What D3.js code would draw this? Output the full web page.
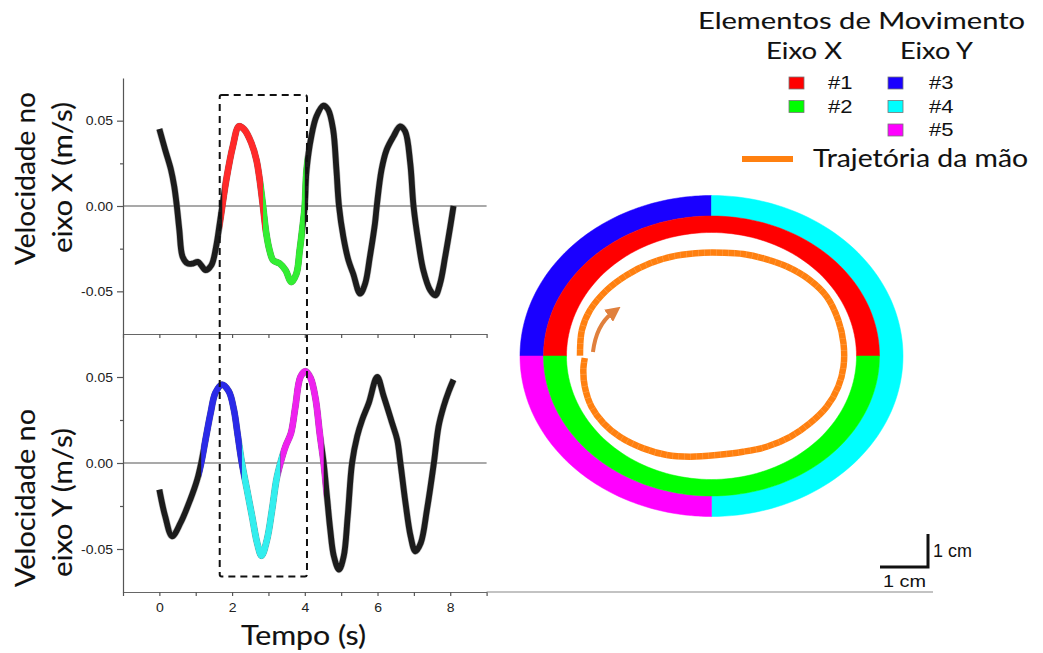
<!DOCTYPE html>
<html>
<head>
<meta charset="utf-8">
<script src="https://cdn.jsdelivr.net/npm/d3@7"></script>
<style>
  html, body { margin: 0; padding: 0; background: #fff; }
  svg { display: block; }
</style>
</head>
<body>
<svg id="chart" width="1043" height="653"></svg>
<script>
// ---- Hand velocity along X (m/s) over time (s)
const timeX = [0, 0.16, 0.32, 0.41, 0.48, 0.55, 0.64, 0.78, 0.92, 1.06, 1.15, 1.27, 1.43, 1.56, 1.66, 1.73,
  1.84, 2.02, 2.19, 2.34, 2.53, 2.67, 2.76, 2.85,
  2.94, 3.03, 3.13, 3.31, 3.47, 3.63, 3.77, 3.86, 3.95, 4.0,
  4.05, 4.18, 4.32, 4.51, 4.64, 4.78, 4.87, 4.94, 5.06, 5.20, 5.33, 5.52, 5.66, 5.79, 5.93, 5.98,
  6.11, 6.25, 6.44, 6.62, 6.76, 6.90, 6.99, 7.13, 7.26, 7.45, 7.59, 7.72, 7.86, 8.0, 8.09];
const velX = [0.0451, 0.0329, 0.0212, 0.0114, 0, -0.0141, -0.0298, -0.0337, -0.0337, -0.0327, -0.0347, -0.0376, -0.0347, -0.0239, -0.0102, 0,
  0.0153, 0.0349, 0.0467, 0.0447, 0.0369, 0.027, 0.0153, 0,
  -0.016, -0.0259, -0.0318, -0.0337, -0.0376, -0.0445, -0.0396, -0.0259, -0.0102, 0,
  0.0212, 0.0408, 0.0525, 0.0588, 0.0565, 0.0447, 0.0212, 0, -0.018, -0.0318, -0.0396, -0.0514, -0.0455, -0.0298, -0.0102, 0,
  0.0212, 0.0329, 0.0408, 0.0467, 0.0437, 0.0251, 0, -0.022, -0.0376, -0.0494, -0.0524, -0.0455, -0.0298, -0.0122, 0];

// ---- Hand velocity along Y (m/s) over time (s)
const timeY = [0, 0.16, 0.35, 0.58, 0.85, 1.04, 1.15,
  1.27, 1.41, 1.54, 1.72, 1.91, 2.05, 2.16, 2.27,
  2.41, 2.55, 2.69, 2.81, 2.96, 3.10, 3.22, 3.33,
  3.47, 3.62, 3.74, 3.88, 4.02, 4.16, 4.30, 4.41, 4.52,
  4.61, 4.70, 4.80, 4.94, 5.07, 5.18, 5.30, 5.44, 5.58, 5.76, 5.99, 6.17, 6.40, 6.54, 6.63,
  6.77, 6.91, 7.04, 7.19, 7.36, 7.55, 7.68, 7.82, 7.96, 8.09];
const velY = [-0.0155, -0.031, -0.0426, -0.0349, -0.0213, -0.0097, 0,
  0.0136, 0.0291, 0.0407, 0.0455, 0.0417, 0.031, 0.0155, 0,
  -0.0155, -0.031, -0.0465, -0.0539, -0.0446, -0.0271, -0.0097, 0,
  0.0097, 0.0174, 0.0326, 0.05, 0.0533, 0.0494, 0.0368, 0.0174, 0,
  -0.0194, -0.0388, -0.0543, -0.062, -0.0543, -0.031, 0, 0.0155, 0.0252, 0.0349, 0.05, 0.0388, 0.0233, 0.0136, 0,
  -0.0233, -0.0426, -0.0514, -0.0465, -0.0271, 0, 0.0213, 0.033, 0.0417, 0.0484];

// ---- Movement elements: time spans (s)
const elementsX = [{ id: "#1", t0: 1.73, t1: 2.85 }, { id: "#2", t0: 2.85, t1: 4.0 }];
const elementsY = [{ id: "#3", t0: 1.15, t1: 2.27 }, { id: "#4", t0: 2.27, t1: 3.33 }, { id: "#5", t0: 3.33, t1: 4.52 }];

// ---- Highlighted movement cycle (s) and its velocity bounds (m/s)
const cycleSpan = [1.66, 4.06];
const cycleVelTop = 0.065;      // on the X panel
const cycleVelBottom = -0.066;  // on the Y panel

// ---- Axis ticks
const timeTicks = [-1, 0, 1, 2, 3, 4, 5, 6, 7, 8, 9];
const timeTickLabels = [0, 2, 4, 6, 8];
const velTicks = [-0.05, 0, 0.05];
const velMinorTicks = [-0.025, 0.025];

// ---- Hand trajectory (cm, relative to the workspace centre)
const trajX = [-2.74, -2.70, -2.53, -2.18, -1.77, -1.28, -0.73, -0.17, 0.25, 0.66, 1.08, 1.57, 2.05, 2.40, 2.64, 2.75,
  2.75, 2.64, 2.40, 2.05, 1.64, 1.15, 0.66, 0.11, -0.45, -0.93, -1.42, -1.91, -2.25, -2.50, -2.64, -2.67, -2.64];
const trajY = [0.01, 0.79, 1.39, 2.00, 2.45, 2.81, 3.04, 3.13, 3.13, 3.09, 2.96, 2.71, 2.30, 1.80, 1.09, 0.38,
  -0.32, -0.93, -1.54, -2.04, -2.45, -2.75, -2.90, -3.00, -3.05, -3.00, -2.80, -2.45, -2.04, -1.54, -0.93, -0.42, -0.06];
// direction-of-motion arrow (cm): start, control, tip
const arrowX = [-2.47, -2.40, -2.07];
const arrowY = [0.12, 0.94, 1.30];

// ---- Element sectors on the workspace rings (degrees, counter-clockwise from +x)
const ringYSectors = [{ id: "#3", a0: 90, a1: 180 }, { id: "#4", a0: -90, a1: 90 }, { id: "#5", a0: 180, a1: 270 }];
const ringXSectors = [{ id: "#1", a0: 0, a1: 180 }, { id: "#2", a0: 180, a1: 360 }];

// ---- Legend
const legendX = ["#1", "#2"];
const legendY = ["#3", "#4", "#5"];

// ---- Styling
const ringColor = { "#1": "#ff0000", "#2": "#00ff00", "#3": "#1a00ff", "#4": "#00ffff", "#5": "#ff00ff" };
const traceColor = { "#1": "#ff2a2a", "#2": "#33ee33", "#3": "#2a2ae8", "#4": "#33eeee", "#5": "#ee22ee" };
const orange = "#ff8010";
const sansText = "Lato, 'Open Sans', sans-serif";
const numText = "'Liberation Sans', Arial, sans-serif";
const CAP = 0.7165; // cap height / em for both faces

const svg = d3.select("#chart");

// Place a text so that its capitals are `cap` px tall and its run is `len` px long,
// stretching the glyphs along the baseline.
function label(parent, str, o) {
  const t = parent.append("text")
    .attr("font-family", o.family || sansText)
    .attr("font-size", o.cap / CAP)
    .attr("text-anchor", o.anchor || "start")
    .attr("fill", "#111")
    .text(str);
  if (o.heavy) t.attr("stroke", "#111").attr("stroke-width", o.heavy);
  const k = o.len / t.node().getComputedTextLength();
  t.attr("transform", `translate(${o.x},${o.y})${o.rotate ? " rotate(-90)" : ""} scale(${k},1)`);
  return t;
}
function widen(sel, k) {
  sel.each(function () {
    const L = this.getComputedTextLength();
    d3.select(this).attr("textLength", L * k).attr("lengthAdjust", "spacingAndGlyphs");
  });
}

// ---- Scales
const x = d3.scaleLinear().domain([-1, 9]).range([123, 486.6]);
const yTopPanel = d3.scaleLinear().domain([-0.075, 0.075]).range([334, 78]);
const yBotPanel = d3.scaleLinear().domain([-0.075, 0.075]).range([592, 334]);

const panels = [
  { y: yTopPanel, t: timeX, v: velX, elements: elementsX, labels: false, name: "px",
    title: ["Velocidade no", "eixo X (m/s)"], titleLen: [173, 151], titleY: [178.5, 177.5] },
  { y: yBotPanel, t: timeY, v: velY, elements: elementsY, labels: true, name: "py",
    title: ["Velocidade no", "eixo Y (m/s)"], titleLen: [178, 149], titleY: [498, 502.5] }
];

const defs = svg.append("defs");

panels.forEach(p => {
  const g = svg.append("g");
  const [y0, y1] = p.y.range();

  // zero line
  g.append("line")
    .attr("x1", x(-1)).attr("x2", x(9))
    .attr("y1", p.y(0)).attr("y2", p.y(0))
    .attr("stroke", "#555").attr("stroke-width", 1.2);

  // y axis (major + minor)
  const ya = g.append("g").attr("transform", `translate(${x(-1)},0)`)
    .call(d3.axisLeft(p.y).tickValues(velTicks).tickSize(6).tickPadding(4).tickSizeOuter(0)
      .tickFormat(d => d.toFixed(2)));
  ya.select(".domain").attr("stroke", "#555").attr("stroke-width", 1.2);
  ya.selectAll(".tick line").attr("stroke", "#555").attr("stroke-width", 1.2);
  ya.selectAll(".tick text").attr("font-family", numText).attr("font-size", 12.5).attr("fill", "#222")
    .call(widen, 1.12);
  const ym = g.append("g").attr("transform", `translate(${x(-1)},0)`)
    .call(d3.axisLeft(p.y).tickValues(velMinorTicks).tickSize(3).tickFormat("").tickSizeOuter(0));
  ym.select(".domain").remove();
  ym.selectAll(".tick line").attr("stroke", "#555").attr("stroke-width", 1.2);

  // x axis
  const xa = g.append("g").attr("transform", `translate(0,${y0})`)
    .call(d3.axisBottom(x).tickValues(timeTicks).tickSize(4).tickPadding(7).tickSizeOuter(0)
      .tickFormat(d => (p.labels && timeTickLabels.includes(d)) ? d : ""));
  xa.select(".domain").attr("stroke", "#666").attr("stroke-width", 1.2);
  xa.selectAll(".tick line").attr("stroke", "#555").attr("stroke-width", 1.2);
  xa.selectAll(".tick text").attr("font-family", numText).attr("font-size", 12.5).attr("fill", "#222")
    .call(widen, 1.12);

  // axis title (two rotated lines)
  p.title.forEach((s, i) => {
    label(g, s, { x: i === 0 ? 35 : 72, y: p.titleY[i], rotate: true, anchor: "middle",
      cap: 20, len: p.titleLen[i], heavy: 0.15 });
  });

  // velocity trace
  const pts = p.t.map((t, i) => ({ t, v: p.v[i] }));
  const line = d3.line().x(d => x(d.t)).y(d => p.y(d.v)).curve(d3.curveCatmullRom.alpha(0.5));
  g.append("path").datum(pts)
    .attr("d", line).attr("fill", "none")
    .attr("stroke", "#777").attr("stroke-width", 7).attr("opacity", 0.5);
  g.append("path").datum(pts)
    .attr("d", line).attr("fill", "none")
    .attr("stroke", "#1c1c1c").attr("stroke-width", 5.8);

  // coloured movement elements on top of the trace
  p.elements.forEach((e, k) => {
    const id = `clip-${p.name}-${k}`;
    defs.append("clipPath").attr("id", id).append("rect")
      .attr("x", x(e.t0)).attr("width", x(e.t1) - x(e.t0))
      .attr("y", y1 - 20).attr("height", y0 - y1 + 40);
    g.append("path").datum(pts)
      .attr("clip-path", `url(#${id})`)
      .attr("d", line).attr("fill", "none")
      .attr("stroke", traceColor[e.id]).attr("stroke-width", 6.4);
  });
});

// baseline continued under the workspace panel
svg.append("line")
  .attr("x1", x(9)).attr("x2", 933).attr("y1", 592).attr("y2", 592)
  .attr("stroke", "#888").attr("stroke-width", 1.2);

// time axis title
label(svg, "Tempo (s)", { x: 303.5, y: 645, anchor: "middle", cap: 20, len: 125, heavy: 0.15 });

// dashed box marking the analysed cycle across both panels
svg.append("rect")
  .attr("x", x(cycleSpan[0])).attr("width", x(cycleSpan[1]) - x(cycleSpan[0]))
  .attr("y", yTopPanel(cycleVelTop)).attr("height", yBotPanel(cycleVelBottom) - yTopPanel(cycleVelTop))
  .attr("rx", 2)
  .attr("fill", "none").attr("stroke", "#111").attr("stroke-width", 2)
  .attr("stroke-dasharray", "7,5");

// ---- Workspace: element rings and hand trajectory
const cx = 711.5, cy = 356;
const xCm = d3.scaleLinear().domain([0, 1]).range([cx, cx + 48]);
const yCm = d3.scaleLinear().domain([0, 1]).range([cy, cy - 33]);
const ringOuter = { rx: 191.5, ry: 160.5 };
const ringMid = { rx: 168, ry: 140 };
const ringInner = { rx: 145, ry: 123.5 };

const rad = d3.scaleLinear().domain([0, 180]).range([0, Math.PI]);
function sectorPath(outer, inner, a0, a1) {
  const n = 90;
  const pts = [];
  for (let i = 0; i <= n; i++) {
    const a = rad(a0 + (a1 - a0) * i / n);
    pts.push([cx + outer.rx * Math.cos(a), cy - outer.ry * Math.sin(a)]);
  }
  for (let i = n; i >= 0; i--) {
    const a = rad(a0 + (a1 - a0) * i / n);
    pts.push([cx + inner.rx * Math.cos(a), cy - inner.ry * Math.sin(a)]);
  }
  return d3.line()(pts) + "Z";
}

const ws = svg.append("g");
ws.selectAll("path.ry").data(ringYSectors).join("path")
  .attr("d", d => sectorPath(ringOuter, ringMid, d.a0, d.a1))
  .attr("fill", d => ringColor[d.id]).attr("stroke", d => ringColor[d.id]).attr("stroke-width", 0.5);
ws.selectAll("path.rx").data(ringXSectors).join("path")
  .attr("d", d => sectorPath(ringMid, ringInner, d.a0, d.a1))
  .attr("fill", d => ringColor[d.id]).attr("stroke", d => ringColor[d.id]).attr("stroke-width", 0.5);

const traj = trajX.map((v, i) => [xCm(v), yCm(trajY[i])]);
const trajLine = d3.line().curve(d3.curveCatmullRom.alpha(0.5));
ws.append("path").attr("d", trajLine(traj))
  .attr("fill", "none").attr("stroke", orange).attr("stroke-width", 6.5);
ws.append("path").attr("d", trajLine(traj))
  .attr("fill", "none").attr("stroke", "#fff").attr("stroke-width", 6.5)
  .attr("stroke-dasharray", "0.6,5.4").attr("opacity", 0.22);

// direction arrow
defs.append("filter").attr("id", "soft").attr("x", "-50%").attr("y", "-50%").attr("width", "200%").attr("height", "200%")
  .append("feGaussianBlur").attr("stdDeviation", 0.7);
defs.append("marker").attr("id", "arrowhead")
  .attr("viewBox", "0 0 10 10").attr("refX", 3).attr("refY", 5)
  .attr("markerWidth", 15).attr("markerHeight", 15)
  .attr("markerUnits", "userSpaceOnUse").attr("orient", "auto")
  .append("path").attr("d", "M0,0L10,5L0,10Z").attr("fill", "#e0803d");
const ap = d3.path();
ap.moveTo(xCm(arrowX[0]), yCm(arrowY[0]));
ap.quadraticCurveTo(xCm(arrowX[1]), yCm(arrowY[1]), xCm(arrowX[2]), yCm(arrowY[2]));
ws.append("path").attr("d", ap.toString())
  .attr("fill", "none").attr("stroke", "#e0803d").attr("stroke-width", 4)
  .attr("marker-end", "url(#arrowhead)").attr("filter", "url(#soft)");

// scale bar: 1 cm in each direction
const barX = 928, barY = 567;
const oneCmX = xCm(1) - xCm(0), oneCmY = yCm(0) - yCm(1);
svg.append("path")
  .attr("d", `M${barX - oneCmX},${barY}H${barX}V${barY - oneCmY}`)
  .attr("fill", "none").attr("stroke", "#111").attr("stroke-width", 3);
label(svg, "1 cm", { x: 904.5, y: 586.7, anchor: "middle", family: numText, cap: 12, len: 43 });
label(svg, "1 cm", { x: 933, y: 556.7, family: numText, cap: 13, len: 39 });

// ---- Legend
const lg = svg.append("g");
label(lg, "Elementos de Movimento", { x: 861.5, y: 29, anchor: "middle", cap: 16.5, len: 327, heavy: 0.1 });
label(lg, "Eixo X", { x: 804, y: 59, anchor: "middle", cap: 16.5, len: 76, heavy: 0.1 });
label(lg, "Eixo Y", { x: 936.5, y: 59, anchor: "middle", cap: 16.5, len: 73, heavy: 0.1 });

const rowY = d3.scalePoint().domain([0, 1, 2]).range([77, 124]);
[[legendX, 789, 828], [legendY, 888, 929]].forEach(([ids, sx, tx]) => {
  ids.forEach((id, i) => {
    lg.append("rect").attr("x", sx).attr("y", rowY(i)).attr("width", 15).attr("height", 12)
      .attr("fill", ringColor[id]).attr("stroke", "#777").attr("stroke-width", 0.8);
    label(lg, id, { x: tx, y: rowY(i) + 12, family: numText, cap: 13, len: 24.5 });
  });
});
lg.append("line").attr("x1", 742).attr("x2", 793).attr("y1", 159).attr("y2", 159)
  .attr("stroke", orange).attr("stroke-width", 6);
label(lg, "Trajetória da mão", { x: 813, y: 167, cap: 17.7, len: 215, heavy: 0.1 });
</script>
</body>
</html>
